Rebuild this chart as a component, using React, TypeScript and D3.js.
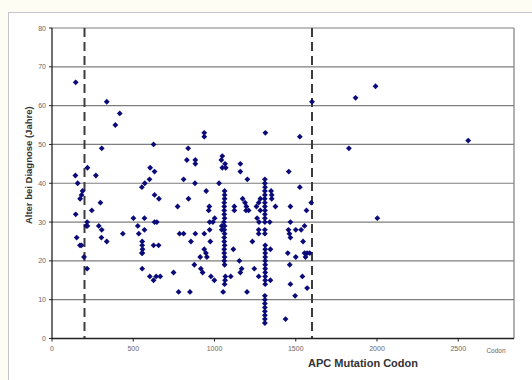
import * as d3 from "d3";

// Achsen und Markierungen
const yTicks = [0, 10, 20, 30, 40, 50, 60, 70, 80];
const xTicks = [0, 500, 1000, 1500, 2000, 2500];
const cutoffs = [200, 1600];

// [codon, alter]
const groupLeft: [number, number][] = [
  [146, 66], [337, 61], [417, 58], [390, 55], [306, 49], [218, 44], [144, 42], [270, 42],
  [158, 40], [188, 38], [182, 37], [173, 36], [298, 35], [245, 33], [146, 32], [216, 30],
  [218, 29], [211, 29], [288, 29], [306, 28], [152, 26], [304, 26], [337, 25], [172, 24],
  [181, 24], [436, 27], [197, 21], [216, 18],
];

const groupMid: [number, number][] = [
  [501, 31], [528, 29], [534, 27], [569, 31], [569, 28], [553, 39], [571, 40], [600, 41],
  [604, 44], [631, 43], [631, 37], [658, 36], [625, 50], [555, 25], [555, 24], [557, 23],
  [553, 22], [556, 22], [555, 18], [631, 30], [645, 30], [625, 24], [656, 24], [602, 16],
  [625, 15], [641, 16], [666, 16], [748, 17], [779, 12], [849, 12], [773, 34], [785, 27],
  [810, 27], [810, 41], [840, 36], [830, 46], [838, 49], [882, 46], [882, 45], [880, 40],
  [855, 25], [882, 27], [876, 19], [912, 21], [916, 18], [927, 17], [937, 27], [937, 23],
  [947, 22], [953, 21], [949, 38], [937, 53], [937, 52], [964, 33], [968, 34], [970, 30],
  [990, 30], [1001, 31], [970, 28], [974, 25], [978, 16], [999, 15],
];

const group1060: [number, number][] = [
  [1028, 40], [1048, 47], [1042, 46], [1065, 45], [1069, 44], [1048, 44],
  [1062, 38], [1062, 37], [1062, 36], [1060, 35], [1060, 34], [1060, 33], [1060, 32],
  [1062, 31], [1058, 30], [1062, 29], [1060, 28], [1062, 27], [1060, 26], [1060, 25],
  [1062, 24], [1060, 23], [1060, 22], [1062, 21], [1060, 20], [1062, 19], [1045, 29],
  [1045, 28], [1067, 16], [1065, 15], [1062, 14], [1053, 12],
  [1100, 16], [1116, 23], [1122, 34], [1122, 33], [1153, 20], [1167, 18], [1159, 17],
  [1173, 36], [1188, 35], [1196, 34], [1210, 33], [1194, 33], [1159, 45], [1159, 43],
  [1202, 41], [1200, 12], [1233, 25], [1245, 18],
];

const group1310: [number, number][] = [
  [1258, 34], [1272, 35], [1282, 36], [1262, 31], [1274, 30], [1272, 28], [1272, 27],
  [1272, 16], [1282, 33], [1313, 53],
  [1310, 41], [1310, 40], [1311, 39], [1310, 38], [1310, 37], [1309, 36], [1310, 35],
  [1310, 34], [1311, 33], [1310, 32], [1310, 31], [1310, 30], [1310, 28], [1310, 27],
  [1312, 24], [1312, 23], [1312, 22], [1312, 21], [1312, 20], [1312, 19], [1312, 18],
  [1312, 17], [1312, 16], [1312, 15], [1312, 14], [1310, 11], [1310, 10], [1310, 9],
  [1310, 8], [1310, 7], [1310, 6], [1310, 5], [1310, 4],
  [1348, 38], [1352, 37], [1352, 36], [1340, 30], [1344, 23], [1344, 15], [1375, 34],
];

const groupRight: [number, number][] = [
  [1457, 43], [1525, 52], [1525, 39], [1600, 61], [1595, 35], [1467, 34], [1566, 33],
  [1467, 30], [1554, 29], [1455, 28], [1500, 28], [1533, 28], [1461, 27], [1467, 26],
  [1545, 25], [1451, 22], [1554, 22], [1570, 22], [1586, 22], [1560, 21], [1500, 21],
  [1463, 19], [1541, 16], [1467, 14], [1570, 13], [1496, 11], [1437, 5],
];

const groupFar: [number, number][] = [
  [1868, 62], [1991, 65], [1827, 49], [2561, 51], [2002, 31],
];

export default function App() {
  const width = 532;
  const height = 380;
  const x = d3.scaleLinear().domain([0, 2843]).range([52, 514]);
  const y = d3.scaleLinear().domain([0, 80]).range([338.5, 28]);
  const diamond = d3.symbol().type(d3.symbolSquare).size(17)() as string;
  const all = [...groupLeft, ...groupMid, ...group1060, ...group1310, ...groupRight, ...groupFar];
  const font = "'Liberation Sans', Arial, sans-serif";

  return (
    <div style={{ position: "absolute", left: 0, top: 0 }}>
      <svg width={width} height={height} style={{ display: "block", background: "#fdfdf4" }}>
        {/* chart frame */}
        <rect x={8.5} y={12.5} width={560} height={420} fill="#ffffff" stroke="#c4c4cc" />

        {/* gridlines */}
        {yTicks.slice(1).map((t) => (
          <line key={t} x1={x(0)} x2={x(2843)} y1={y(t)} y2={y(t)} stroke="#7e7e7e" strokeWidth={1.2} />
        ))}
        <line x1={x(2843)} x2={x(2843)} y1={y(80)} y2={y(0)} stroke="#7e7e7e" strokeWidth={1.2} />

        {/* cutoff lines */}
        {cutoffs.map((c) => (
          <line key={c} x1={x(c)} x2={x(c)} y1={y(80)} y2={y(0)} stroke="#3c3c3c" strokeWidth={2} strokeDasharray="9,5" />
        ))}

        {/* axes */}
        <line x1={x(0)} x2={x(0)} y1={y(80)} y2={y(0)} stroke="#222" strokeWidth={1.3} />
        <line x1={x(0)} x2={x(2843)} y1={y(0)} y2={y(0)} stroke="#222" strokeWidth={1.3} />
        {yTicks.map((t) => (
          <g key={t}>
            <line x1={x(0) - 3} x2={x(0)} y1={y(t)} y2={y(t)} stroke="#222" />
            <text x={x(0) - 6} y={y(t) + 2.5} textAnchor="end" fontSize={7} fill="#666" fontFamily={font}>{t}</text>
          </g>
        ))}
        {xTicks.map((t) => (
          <g key={t}>
            <line x1={x(t)} x2={x(t)} y1={y(0)} y2={y(0) + 3} stroke="#222" />
            <text x={x(t)} y={y(0) + 12} textAnchor="middle" fontSize={7} fill="#666" fontFamily={font}>{t}</text>
          </g>
        ))}
        <text x={496} y={353} textAnchor="middle" fontSize={6.5} fill="#666" fontFamily={font}>Codon</text>

        {/* titles */}
        <text x={363} y={367} textAnchor="middle" fontSize={11} fontWeight="bold" fill="#333" fontFamily={font}>APC Mutation Codon</text>
        <text transform={`translate(32,${(y(0) + y(80)) / 2 - 18}) rotate(-90)`} textAnchor="middle" fontSize={9.5} fontWeight="bold" fill="#333" fontFamily={font}>Alter bei Diagnose (Jahre)</text>

        {/* points */}
        {all.map(([c, a], i) => (
          <path key={i} d={diamond} transform={`translate(${x(c)},${y(a)}) rotate(45)`} fill="#0a0a78" />
        ))}
      </svg>
    </div>
  );
}
